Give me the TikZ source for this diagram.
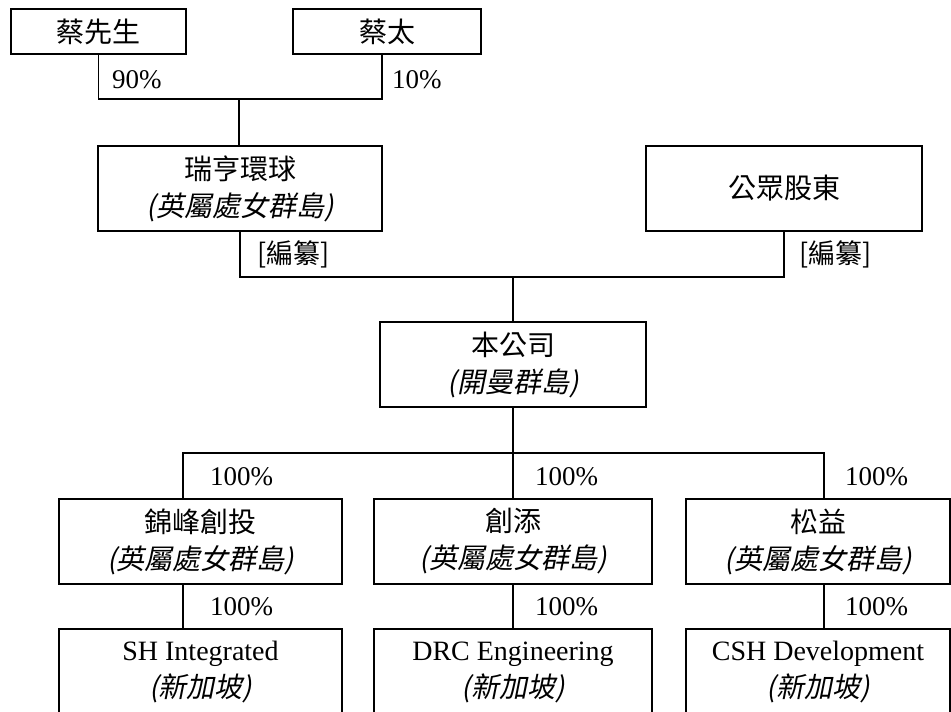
\documentclass[tikz,border=0pt]{standalone}
\usepackage{fontspec}
\setmainfont{Liberation Serif}
\newfontfamily\cjk{Noto Sans CJK TC}
\newfontfamily\cjkit[FakeSlant=0.2]{Noto Sans CJK TC}
\begin{document}
\begin{tikzpicture}[x=1pt, y=-1pt, line join=miter,
		entity/.style={draw, line width=1.6pt, align=center, inner sep=0pt, font=\fontsize{28}{37}\selectfont},
		pct/.style={anchor=west, inner sep=0pt, font=\fontsize{27}{30}\selectfont},
		link/.style={line width=1.6pt}]
			\useasboundingbox (0,0) rectangle (951,712);
			\clip (0,0) rectangle (951,712);
			% shareholders
			\node[entity, minimum width=175pt, minimum height=45pt] (caiM) at (98.5,31.5) {\cjk 蔡先生};
			\node[entity, minimum width=188pt, minimum height=45pt] (caiT) at (387,31.5) {\cjk 蔡太};
			\node[entity, minimum width=284pt, minimum height=85pt] (rh) at (240,188.5) {{\cjk 瑞亨環球}\\{\cjkit (英屬處女群島)}};
			\node[entity, minimum width=276pt, minimum height=85pt] (pub) at (784,188.5) {\cjk 公眾股東};
			\node[entity, minimum width=266pt, minimum height=85pt] (co) at (513,364.5) {{\cjk 本公司}\\{\cjkit (開曼群島)}};
			% subsidiaries
			\node[entity, minimum width=283pt, minimum height=85pt] (r1) at (200.5,541.5) {{\cjk 錦峰創投}\\{\cjkit (英屬處女群島)}};
			\node[entity, minimum width=278pt, minimum height=85pt] (r2) at (513,541.5) {{\cjk 創添}\\{\cjkit (英屬處女群島)}};
			\node[entity, minimum width=264pt, minimum height=85pt] (r3) at (818,541.5) {{\cjk 松益}\\{\cjkit (英屬處女群島)}};
			\node[entity, minimum width=283pt, minimum height=86pt] (b1) at (200.5,672) {SH Integrated\\{\cjkit (新加坡)}};
			\node[entity, minimum width=278pt, minimum height=86pt] (b2) at (513,672) {DRC Engineering\\{\cjkit (新加坡)}};
			\node[entity, minimum width=264pt, minimum height=86pt] (b3) at (818,672) {CSH Development\\{\cjkit (新加坡)}};
			% connectors
			\coordinate (j1) at (239,99);
			\coordinate (j2) at (513,277);
			\coordinate (j3) at (513,453);
			\draw[link] (caiM.south) |- (j1) -| ([xshift=-5pt]caiT.south);
			\draw[link] (j1) -- (j1 |- rh.north);
			\draw[link] (rh.south) |- (j2) -| (pub.south);
			\draw[link] (j2) -- (co.north);
			\draw[link] (co.south) -- (j3);
			\draw[link] (j3) -| ([xshift=-17.5pt]r1.north);
			\draw[link] (j3) -| ([xshift=6pt]r3.north);
			\draw[link] (j3) -- (r2.north);
			\draw[link] ([xshift=-17.5pt]r1.south) -- ([xshift=-17.5pt]b1.north);
			\draw[link] (r2.south) -- (b2.north);
			\draw[link] ([xshift=6pt]r3.south) -- ([xshift=6pt]b3.north);
			% holdings
			\node[pct] (p90) at (112,80) {90\%};
			\node[pct] (p10) at (392,80) {10\%};
			\node[pct] (redA) at (257,254) {\cjk [編纂]};
			\node[pct] (redB) at (799,254) {\cjk [編纂]};
			\foreach \px/\nm in {210/a,535/b,845/c}{
				\node[pct] (s\nm) at (\px,477) {100\%};
				\node[pct] (t\nm) at (\px,607) {100\%};
			}
		\end{tikzpicture}
\end{document}
